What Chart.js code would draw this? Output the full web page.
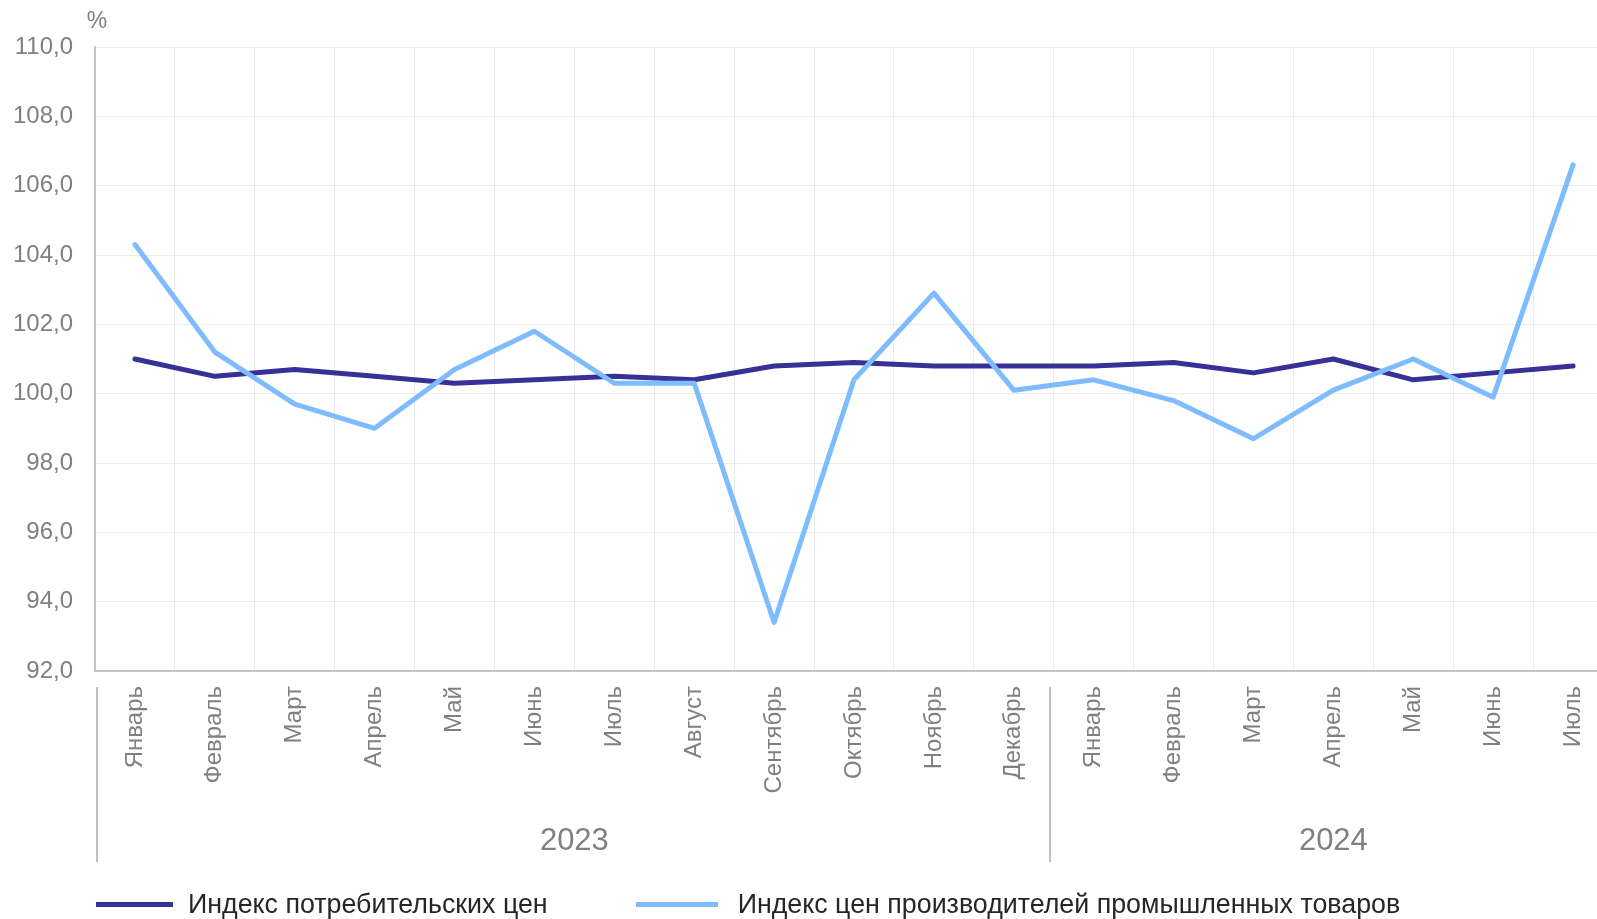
<!DOCTYPE html>
<html lang="ru">
<head>
<meta charset="utf-8">
<title>Индексы цен</title>
<script src="https://cdn.jsdelivr.net/npm/chart.js@4.4.1/dist/chart.umd.min.js"></script>
<style>
	html, body {
		margin: 0;
		padding: 0;
		background: #fff;
		overflow: hidden;
	}
	#wrap {
		position: relative;
		width: 1597px;
		height: 919px;
		overflow: hidden;
	}
	#price-chart {
		position: absolute;
		left: 0;
		top: 0;
	}
	#legend {
		position: absolute;
		left: 96px;
		top: 889px;
		display: flex;
		align-items: center;
		font-family: Arial, "Liberation Sans", sans-serif;
		font-size: 26.8px;
		color: #262626;
	}
	#legend .item {
		display: flex;
		align-items: center;
		margin-right: 88px;
		white-space: nowrap;
	}
	#legend .line {
		display: inline-block;
		width: 77px;
		height: 5px;
		margin-right: 15px;
	}
	#legend .item:nth-child(2) .line {
		width: 82px;
		margin-right: 20px;
	}
</style>
</head>
<body>
<div id="wrap">
	<canvas id="price-chart" width="1620" height="919"></canvas>
	<div id="legend"></div>
</div>
<script>
// Месяцы по оси X
const months = ['Январь', 'Февраль', 'Март', 'Апрель', 'Май', 'Июнь', 'Июль', 'Август',
	'Сентябрь', 'Октябрь', 'Ноябрь', 'Декабрь',
	'Январь', 'Февраль', 'Март', 'Апрель', 'Май', 'Июнь', 'Июль'];
// Группы годов и число месяцев в каждой
const yearLabels = ['2023', '2024'];
const yearCounts = [12, 7];

// Индекс потребительских цен, %
const cpi = [101.0, 100.5, 100.7, 100.5, 100.3, 100.4, 100.5, 100.4, 100.8, 100.9, 100.8, 100.8,
	100.8, 100.9, 100.6, 101.0, 100.4, 100.6, 100.8];
// Индекс цен производителей промышленных товаров, %
const ppi = [104.3, 101.2, 99.7, 99.0, 100.7, 101.8, 100.3, 100.3, 93.4, 100.4, 102.9, 100.1,
	100.4, 99.8, 98.7, 100.1, 101.0, 99.9, 106.6];

const fontFamily = 'Arial, "Liberation Sans", sans-serif';
const grayText = '#808080';

// Подписи годов, разделители и знак % над осью
const groupsPlugin = {
	id: 'yearGroups',
	afterDraw(chart) {
		const ctx = chart.ctx;
		const x = chart.scales.x;
		const y = chart.scales.y;
		const step = x.getPixelForValue(1) - x.getPixelForValue(0);

		ctx.save();
		// знак %
		ctx.fillStyle = grayText;
		ctx.font = '23px ' + fontFamily;
		ctx.textAlign = 'center';
		ctx.textBaseline = 'middle';
		ctx.fillText('%', y.right + 2, 22);

		let start = 0;
		const lineTop = x.top + 16;
		const lineBottom = 862;
		ctx.strokeStyle = '#bfbfbf';
		ctx.lineWidth = 2;
		yearLabels.forEach((year, i) => {
			const end = start + yearCounts[i] - 1;
			const left = x.getPixelForValue(start) - step / 2;
			const right = x.getPixelForValue(end) + step / 2;
			// разделитель слева от группы (первый чуть правее оси, остальные левее сетки)
			const sepX = i === 0 ? Math.round(left) + 2 : Math.round(left) - 4;
			ctx.beginPath();
			ctx.moveTo(sepX, lineTop);
			ctx.lineTo(sepX, lineBottom);
			ctx.stroke();
			if (i === yearLabels.length - 1) {
				ctx.beginPath();
				ctx.moveTo(Math.round(right) - 4, lineTop);
				ctx.lineTo(Math.round(right) - 4, lineBottom);
				ctx.stroke();
			}
			ctx.font = '31px ' + fontFamily;
			ctx.fillText(year, (left + right) / 2, 841);
			start = end + 1;
		});
		ctx.restore();
	}
};

const config = {
	type: 'line',
	data: {
		labels: months,
		datasets: [{
			label: 'Индекс потребительских цен',
			data: cpi,
			borderColor: '#373096',
			backgroundColor: '#373096',
			borderWidth: 5,
			pointRadius: 0,
			tension: 0,
			borderJoinStyle: 'round',
			borderCapStyle: 'round',
			order: 1
		}, {
			label: 'Индекс цен производителей промышленных товаров',
			data: ppi,
			borderColor: '#7fbbff',
			backgroundColor: '#7fbbff',
			borderWidth: 5,
			pointRadius: 0,
			tension: 0,
			borderJoinStyle: 'round',
			borderCapStyle: 'round',
			order: 0
		}]
	},
	options: {
		responsive: false,
		animation: false,
		layout: {
			padding: {left: 0, top: 47, right: 7, bottom: 0}
		},
		plugins: {
			legend: {display: false},
			tooltip: {enabled: false}
		},
		scales: {
			x: {
				offset: true,
				grid: {
					offset: true,
					color: '#ebebeb',
					lineWidth: 1,
					drawTicks: false
				},
				border: {color: '#c4c4c4', width: 2},
				ticks: {
					autoSkip: false,
					minRotation: 90,
					maxRotation: 90,
					padding: 15,
					color: grayText,
					font: {family: fontFamily, size: 24}
				},
				afterFit(scale) {
					scale.height = 248;
				}
			},
			y: {
				min: 92,
				max: 110,
				grid: {
					color: '#ebebeb',
					lineWidth: 1,
					drawTicks: false
				},
				border: {color: '#c4c4c4', width: 2},
				ticks: {
					stepSize: 2,
					padding: 22,
					color: grayText,
					font: {family: fontFamily, size: 24},
					callback: value => value.toFixed(1).replace('.', ',')
				},
				afterFit(scale) {
					scale.width = 95;
				}
			}
		}
	},
	plugins: [groupsPlugin]
};

const priceChart = new Chart(document.getElementById('price-chart'), config);

// Легенда в HTML по данным графика
const legendBox = document.getElementById('legend');
priceChart.data.datasets.forEach(ds => {
	const item = document.createElement('div');
	item.className = 'item';
	const line = document.createElement('span');
	line.className = 'line';
	line.style.background = ds.borderColor;
	const text = document.createElement('span');
	text.textContent = ds.label;
	item.appendChild(line);
	item.appendChild(text);
	legendBox.appendChild(item);
});
</script>
</body>
</html>
